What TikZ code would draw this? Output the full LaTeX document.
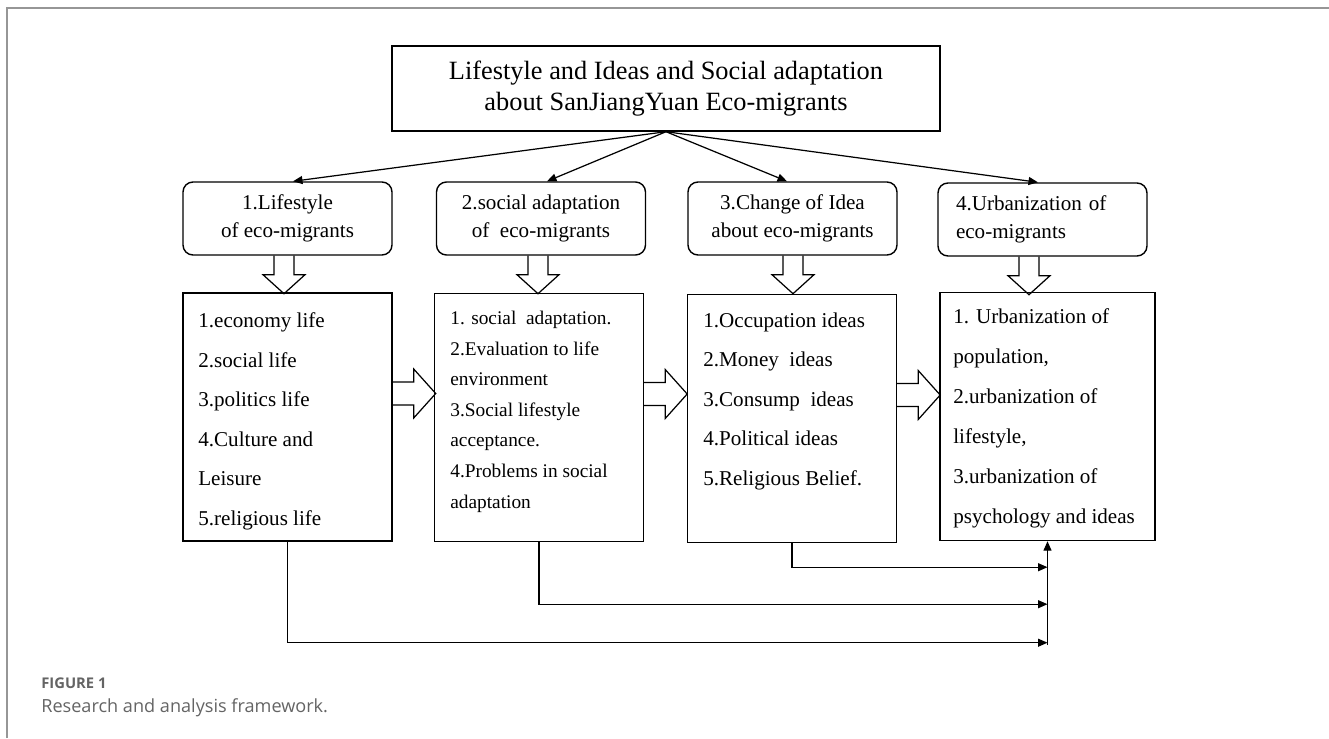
\documentclass[tikz,border=0pt]{standalone}
\usepackage{fontspec}
\setmainfont{Liberation Serif}
\newfontfamily\figcapfont{Open Sans}
\usepackage{xcolor}
\usetikzlibrary{arrows.meta, calc, positioning}
\definecolor{framegray}{RGB}{150,150,150}
\definecolor{capgray}{RGB}{100,100,100}

\tikzset{
  partbox/.style={draw, rectangle, rounded corners=2mm, minimum width=41.8mm, minimum height=14.6mm, line width=0.8pt, align=center, font=\fontsize{12}{15.9}\selectfont},
  listbox/.style={draw, rectangle, minimum width=41.8mm, minimum height=49.6mm, line width=0.8pt},
  listtext/.style={anchor=base west, inner sep=0pt, align=left},
  link/.style={-{Triangle[length=1.9mm, width=1.6mm]}, line width=0.7pt},
  hollow/.style={draw, line width=0.7pt, line join=miter}
}

\begin{document}
\begin{tikzpicture}[x=0.2mm, y=-0.2mm]
    \useasboundingbox (0,0) rectangle (1329,738);

    % frame of the figure
    \draw[framegray, line width=0.35mm] (7,738) -- (7,8) -- (1329,8);

    % Box with the main title
    \node[draw, rectangle, minimum width=109.6mm, minimum height=17mm, line width=0.8pt, align=center, font=\fontsize{15}{18.1}\selectfont] (title) at (666,88.5)
    {Lifestyle and Ideas and Social adaptation\\about SanJiangYuan Eco-migrants};

    % The four parts
    \node[partbox] (lifestyle) at (287.5,218.5) {1.Lifestyle\\of eco-migrants};
    \node[partbox] (adaptation) at (541,218.5) {2.social adaptation\\of \ eco-migrants};
    \node[partbox] (idea) at (792.5,218.5) {3.Change of Idea\\about eco-migrants};
    \node[partbox, align=left, text width=34.6mm] (urban) at (1042.5,219.5) {4.Urbanization of\\eco-migrants};

    \foreach \n/\d in {lifestyle/5.5, adaptation/6, idea/-5.5, urban/-4.5}
        \draw[link] (title.south) -- ($(\n.north)+(\d,0)$);

    % Boxes with the contents of each part
    \node[listbox] (lifelist) at (287.5,417) {};
    \node[listbox] (adaptlist) at (539,417.5) {};
    \node[listbox] (idealist) at (792,418.5) {};
    \node[listbox, minimum width=43mm] (urbanlist) at (1047.5,416.5) {};

    % texts, placed at the baseline of their last line
    \node[listtext, font=\fontsize{12}{22.45}\selectfont] (lifetext) at (198,525)
    {1.economy life\\2.social life\\3.politics life\\4.Culture and\\Leisure\\5.religious life};
    \node[listtext, font=\fontsize{11}{17.4}\selectfont] (adapttext) at (450,508)
    {1. social \ adaptation.\\2.Evaluation to life\\environment\\3.Social lifestyle\\acceptance.\\4.Problems in social\\adaptation};
    \node[listtext, font=\fontsize{12}{22.45}\selectfont] (ideatext) at (703,485)
    {1.Occupation ideas\\2.Money \ ideas\\3.Consump \ ideas\\4.Political ideas\\5.Religious Belief.};
    \node[listtext, font=\fontsize{12}{22.7}\selectfont] (urbantext) at (953,523)
    {1. Urbanization of\\population,\\2.urbanization of\\lifestyle,\\3.urbanization of\\psychology and ideas};

    % hollow arrows down into the lists
    \foreach \n/\s in {lifestyle/-3.5, adaptation/-3, idea/0.5, urban/-13.5}
        \draw[hollow] ($(\n.south)+(\s-10,0)$) -- ++(0,19) -- ++(-11,0) -- ++(21,19) -- ++(21,-19) -- ++(-11,0) -- ++(0,-19);

    % hollow arrows from one list to the next
    \foreach \n in {lifelist, adaptlist, idealist}
        \draw[hollow] ($(\n.east)+(0,-35)$) -- ++(21,0) -- ++(0,-13) -- ++(22,24.5) -- ++(-22,24.5) -- ++(0,-13) -- ++(-21,0);

    % lines into the urbanization list
    \draw[link] (idealist.south) -- ++(0,24) coordinate (c3) -- (c3 -| urbanlist.south);
    \draw[link] (adaptlist.south) -- ++(0,62) coordinate (c2) -- (c2 -| urbanlist.south);
    \draw[link] (lifelist.south) -- ++(0,101) coordinate (c1) -- (c1 -| urbanlist.south);
    \coordinate (hub) at ($(urbanlist.south)+(0,104)$);
    \draw[link] (hub) -- (urbanlist.south);

    % caption
    \node[anchor=base west, inner sep=0pt, text=capgray, font=\figcapfont\bfseries\fontsize{8.4}{10}\selectfont] (fignum) at (41,688) {FIGURE 1};
    \node[anchor=base west, inner sep=0pt, text=capgray, font=\figcapfont\fontsize{10.3}{12}\selectfont] (figcap) at (41,712) {Research and analysis framework.};
\end{tikzpicture}
\end{document}
